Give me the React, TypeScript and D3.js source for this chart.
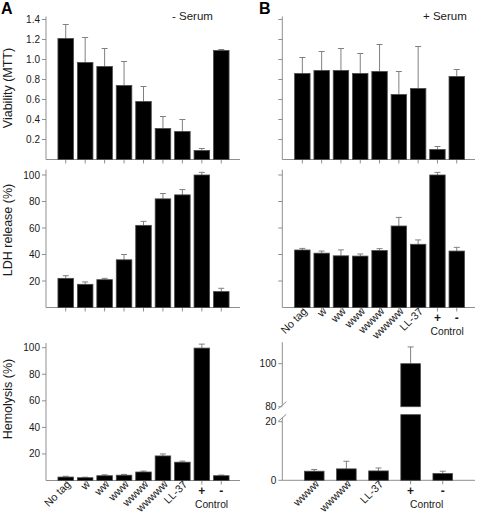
import React from "react";
import * as d3 from "d3";

// ---------- data ----------
const categories = ["No tag", "w", "ww", "www", "wwww", "wwwww", "LL-37", "+", "-"];
const hemoPlusCategories = ["wwww", "wwwww", "LL-37", "+", "-"];

const viabilityMinus = [1.21, 0.97, 0.93, 0.74, 0.58, 0.31, 0.28, 0.09, 1.09];
const viabilityMinusErr = [0.14, 0.25, 0.18, 0.24, 0.15, 0.12, 0.12, 0.02, 0.01];
const viabilityPlus = [0.86, 0.89, 0.89, 0.86, 0.88, 0.65, 0.71, 0.1, 0.83];
const viabilityPlusErr = [0.16, 0.19, 0.22, 0.2, 0.27, 0.23, 0.42, 0.03, 0.07];

const ldhMinus = [22, 17.5, 21, 36, 62, 82, 85, 100, 12];
const ldhMinusErr = [2, 1.8, 1, 4, 3, 4, 4, 2, 2.5];
const ldhPlus = [43.4, 41, 39, 38.8, 43, 61.5, 47.7, 100, 42.6];
const ldhPlusErr = [1.2, 1.6, 4.5, 1.6, 1.4, 6.5, 3.3, 2, 2.8];

const hemoMinus = [2.6, 2.1, 3.6, 4, 6.4, 18.5, 13.8, 99.7, 3.6];
const hemoMinusErr = [0.6, 0.4, 0.7, 0.6, 0.7, 1.5, 0.8, 3, 0.5];
const hemoPlus = [3.1, 3.9, 3.2, 100, 2.3];
const hemoPlusErr = [0.6, 2.6, 1, 7.8, 0.8];

const viabilityTicks = [0.2, 0.4, 0.6, 0.8, 1.0, 1.2, 1.4];
const percentTicks = [20, 40, 60, 80, 100];
const brokenLowerTicks = [0, 20];
const brokenUpperTicks = [80, 100];

// ---------- styles ----------
const FONT = "'Liberation Sans', Arial, Helvetica, sans-serif";
const AXIS = "#8f8f8f";
const ERR = "#808080";
const TEXT = "#1a1a1a";

type PanelProps = {
  cats: string[];
  values: number[];
  errs: number[];
  bandRange: [number, number];
  padInner: number;
  padOuter: number;
  axisX: number;
  axisXEnd: number;
  yMax: number;
  yRange: [number, number];
  axisTop: number;
  ticks: number[];
  fmt: (v: number) => string;
  tickLabels: boolean;
  xLabels: boolean;
};

function XLabels({ x, cats, baseY }: { x: d3.ScaleBand<string>; cats: string[]; baseY: number }) {
  const c = (k: string) => (x(k) as number) + x.bandwidth() / 2;
  const hasCtrl = cats.includes("+") && cats.includes("-");
  return (
    <g fontFamily={FONT} fill={TEXT}>
      {cats.map((k) =>
        k === "+" || k === "-" ? (
          <text key={k} x={c(k)} y={baseY + 14.5} textAnchor="middle" fontSize={12} fontWeight="bold">
            {k}
          </text>
        ) : (
          <text key={k} fontSize={10.8} textAnchor="end" transform={`translate(${c(k) + 5.5},${baseY + 4.5}) rotate(-45)`}>
            {k}
          </text>
        )
      )}
      {hasCtrl && (
        <text x={(c("+") + c("-")) / 2} y={baseY + 27.5} textAnchor="middle" fontSize={10.3}>
          Control
        </text>
      )}
    </g>
  );
}

function Bars({ x, y, cats, values, errs, baseY }: any) {
  return (
    <g>
      {cats.map((k: string, i: number) => {
        const bx = x(k) as number;
        const cx = bx + x.bandwidth() / 2;
        const top = y(values[i]);
        const et = y(values[i] + errs[i]);
        return (
          <g key={k}>
            <line x1={cx} x2={cx} y1={top} y2={et} stroke={ERR} strokeWidth={1} />
            <line x1={cx - 3} x2={cx + 3} y1={et} y2={et} stroke={ERR} strokeWidth={1} />
            <rect x={bx} y={top} width={x.bandwidth()} height={baseY - top} fill="#000" stroke="#4a4a4a" strokeWidth={0.8} />
          </g>
        );
      })}
    </g>
  );
}

function Panel(p: PanelProps) {
  const x = d3.scaleBand<string>().domain(p.cats).range(p.bandRange).paddingInner(p.padInner).paddingOuter(p.padOuter);
  const y = d3.scaleLinear().domain([0, p.yMax]).range(p.yRange);
  const baseY = y(0);
  return (
    <g>
      <line x1={p.axisX} x2={p.axisX} y1={y(p.axisTop)} y2={baseY} stroke={AXIS} strokeWidth={1} />
      {p.ticks.map((t) => (
        <g key={t}>
          <line x1={p.axisX - 4} x2={p.axisX} y1={y(t)} y2={y(t)} stroke={AXIS} strokeWidth={1} />
          {p.tickLabels && (
            <text x={p.axisX - 6} y={y(t)} dy="0.35em" textAnchor="end" fontSize={10} fontFamily={FONT} fill={TEXT}>
              {p.fmt(t)}
            </text>
          )}
        </g>
      ))}
      <line x1={p.axisX} x2={p.axisXEnd} y1={baseY} y2={baseY} stroke={AXIS} strokeWidth={1} />
      {p.cats.map((k) => {
        const cx = (x(k) as number) + x.bandwidth() / 2;
        return <line key={k} x1={cx} x2={cx} y1={baseY} y2={baseY + 4} stroke={AXIS} strokeWidth={1} />;
      })}
      <Bars x={x} y={y} cats={p.cats} values={p.values} errs={p.errs} baseY={baseY} />
      {p.xLabels && <XLabels x={x} cats={p.cats} baseY={baseY} />}
    </g>
  );
}

function BrokenPanel() {
  const axisX = 282.3;
  const axisXEnd = 475;
  const x = d3.scaleBand<string>().domain(hemoPlusCategories).range([298.2, 458.8]).paddingInner(0.39).paddingOuter(0.195);
  const yLow = d3.scaleLinear().domain([0, 20]).range([480.3, 421.7]);
  const yHigh = d3.scaleLinear().domain([80, 100]).range([406.7, 363.7]);
  const lowTop = 22.4;
  const highTop = 110;
  const baseY = yLow(0);
  const yv = (v: number) => (v <= lowTop ? yLow(v) : yHigh(v));
  const gapLowY = yLow(lowTop);
  const gapHighY = yHigh(80);
  return (
    <g>
      <line x1={axisX} x2={axisX} y1={yHigh(highTop)} y2={yHigh(80) - 1} stroke={AXIS} />
      <line x1={axisX} x2={axisX} y1={yLow(21.5)} y2={baseY} stroke={AXIS} />
      <line x1={axisX - 4} x2={axisX + 4} y1={yHigh(80) + 2} y2={yHigh(80) - 5} stroke={AXIS} />
      <line x1={axisX - 4} x2={axisX + 4} y1={yLow(21.5) + 4} y2={yLow(21.5) - 3} stroke={AXIS} />
      {brokenUpperTicks.map((t) => (
        <g key={"u" + t}>
          <line x1={axisX - 4} x2={axisX} y1={yHigh(t)} y2={yHigh(t)} stroke={AXIS} />
          <text x={axisX - 6} y={yHigh(t)} dy="0.35em" textAnchor="end" fontSize={10} fontFamily={FONT} fill={TEXT}>
            {t}
          </text>
        </g>
      ))}
      {brokenLowerTicks.map((t) => (
        <g key={"l" + t}>
          <line x1={axisX - 4} x2={axisX} y1={yLow(t)} y2={yLow(t)} stroke={AXIS} />
          <text x={axisX - 6} y={yLow(t)} dy="0.35em" textAnchor="end" fontSize={10} fontFamily={FONT} fill={TEXT}>
            {t}
          </text>
        </g>
      ))}
      <line x1={axisX} x2={axisXEnd} y1={baseY} y2={baseY} stroke={AXIS} />
      {hemoPlusCategories.map((k, i) => {
        const bx = x(k) as number;
        const cx = bx + x.bandwidth() / 2;
        const v = hemoPlus[i];
        const et = yv(v + hemoPlusErr[i]);
        const w = x.bandwidth();
        return (
          <g key={k}>
            <line x1={cx} x2={cx} y1={baseY} y2={baseY + 4} stroke={AXIS} />
            <line x1={cx} x2={cx} y1={yv(v)} y2={et} stroke={ERR} />
            <line x1={cx - 3} x2={cx + 3} y1={et} y2={et} stroke={ERR} />
            {v <= lowTop ? (
              <rect x={bx} y={yLow(v)} width={w} height={baseY - yLow(v)} fill="#000" stroke="#4a4a4a" strokeWidth={0.8} />
            ) : (
              <>
                <rect x={bx} y={gapLowY} width={w} height={baseY - gapLowY} fill="#000" stroke="#4a4a4a" strokeWidth={0.8} />
                <rect x={bx} y={yHigh(v)} width={w} height={gapHighY - yHigh(v)} fill="#000" stroke="#4a4a4a" strokeWidth={0.8} />
              </>
            )}
          </g>
        );
      })}
      <XLabels x={x} cats={hemoPlusCategories} baseY={baseY} />
    </g>
  );
}

export default function App() {
  const fmt1 = (v: number) => d3.format(".1f")(v);
  const fmt0 = (v: number) => String(v);
  const A: [number, number] = [56, 231];
  const B: [number, number] = [292.7, 466.4];
  return (
    <svg width={477} height={517} style={{ position: "absolute", left: 0, top: 0, background: "#fff" }} fontFamily={FONT}>
      <rect width={477} height={517} fill="#fff" />
      <text x={1} y={14} fontSize={16} fontWeight="bold" fill="#000">A</text>
      <text x={259} y={14} fontSize={16} fontWeight="bold" fill="#000">B</text>
      <text x={172} y={20} fontSize={11.5} fill={TEXT}>- Serum</text>
      <text x={423} y={20} fontSize={11.5} fill={TEXT}>+ Serum</text>

      <text transform="translate(12,88) rotate(-90)" textAnchor="middle" fontSize={12.5} fill={TEXT}>Viability (MTT)</text>
      <text transform="translate(12,230) rotate(-90)" textAnchor="middle" fontSize={12.5} fill={TEXT}>LDH release (%)</text>
      <text transform="translate(12,399) rotate(-90)" textAnchor="middle" fontSize={12.5} fill={TEXT}>Hemolysis (%)</text>

      <Panel cats={categories} values={viabilityMinus} errs={viabilityMinusErr} bandRange={A} padInner={0.2} padOuter={0.1}
        axisX={46} axisXEnd={240} yMax={1.4} yRange={[159.5, 19.5]} axisTop={1.43} ticks={viabilityTicks} fmt={fmt1} tickLabels xLabels={false} />
      <Panel cats={categories} values={viabilityPlus} errs={viabilityPlusErr} bandRange={B} padInner={0.2} padOuter={0.1}
        axisX={282.3} axisXEnd={475} yMax={1.4} yRange={[159.5, 19.5]} axisTop={1.43} ticks={viabilityTicks} fmt={fmt1} tickLabels={false} xLabels={false} />

      <Panel cats={categories} values={ldhMinus} errs={ldhMinusErr} bandRange={A} padInner={0.2} padOuter={0.1}
        axisX={46} axisXEnd={240} yMax={100} yRange={[307.5, 175]} axisTop={104} ticks={percentTicks} fmt={fmt0} tickLabels xLabels={false} />
      <Panel cats={categories} values={ldhPlus} errs={ldhPlusErr} bandRange={B} padInner={0.2} padOuter={0.1}
        axisX={282.3} axisXEnd={475} yMax={100} yRange={[307.5, 175]} axisTop={104} ticks={percentTicks} fmt={fmt0} tickLabels={false} xLabels />

      <Panel cats={categories} values={hemoMinus} errs={hemoMinusErr} bandRange={A} padInner={0.2} padOuter={0.1}
        axisX={46} axisXEnd={240} yMax={100} yRange={[480.5, 347.7]} axisTop={103.5} ticks={percentTicks} fmt={fmt0} tickLabels xLabels />
      <BrokenPanel />
    </svg>
  );
}
